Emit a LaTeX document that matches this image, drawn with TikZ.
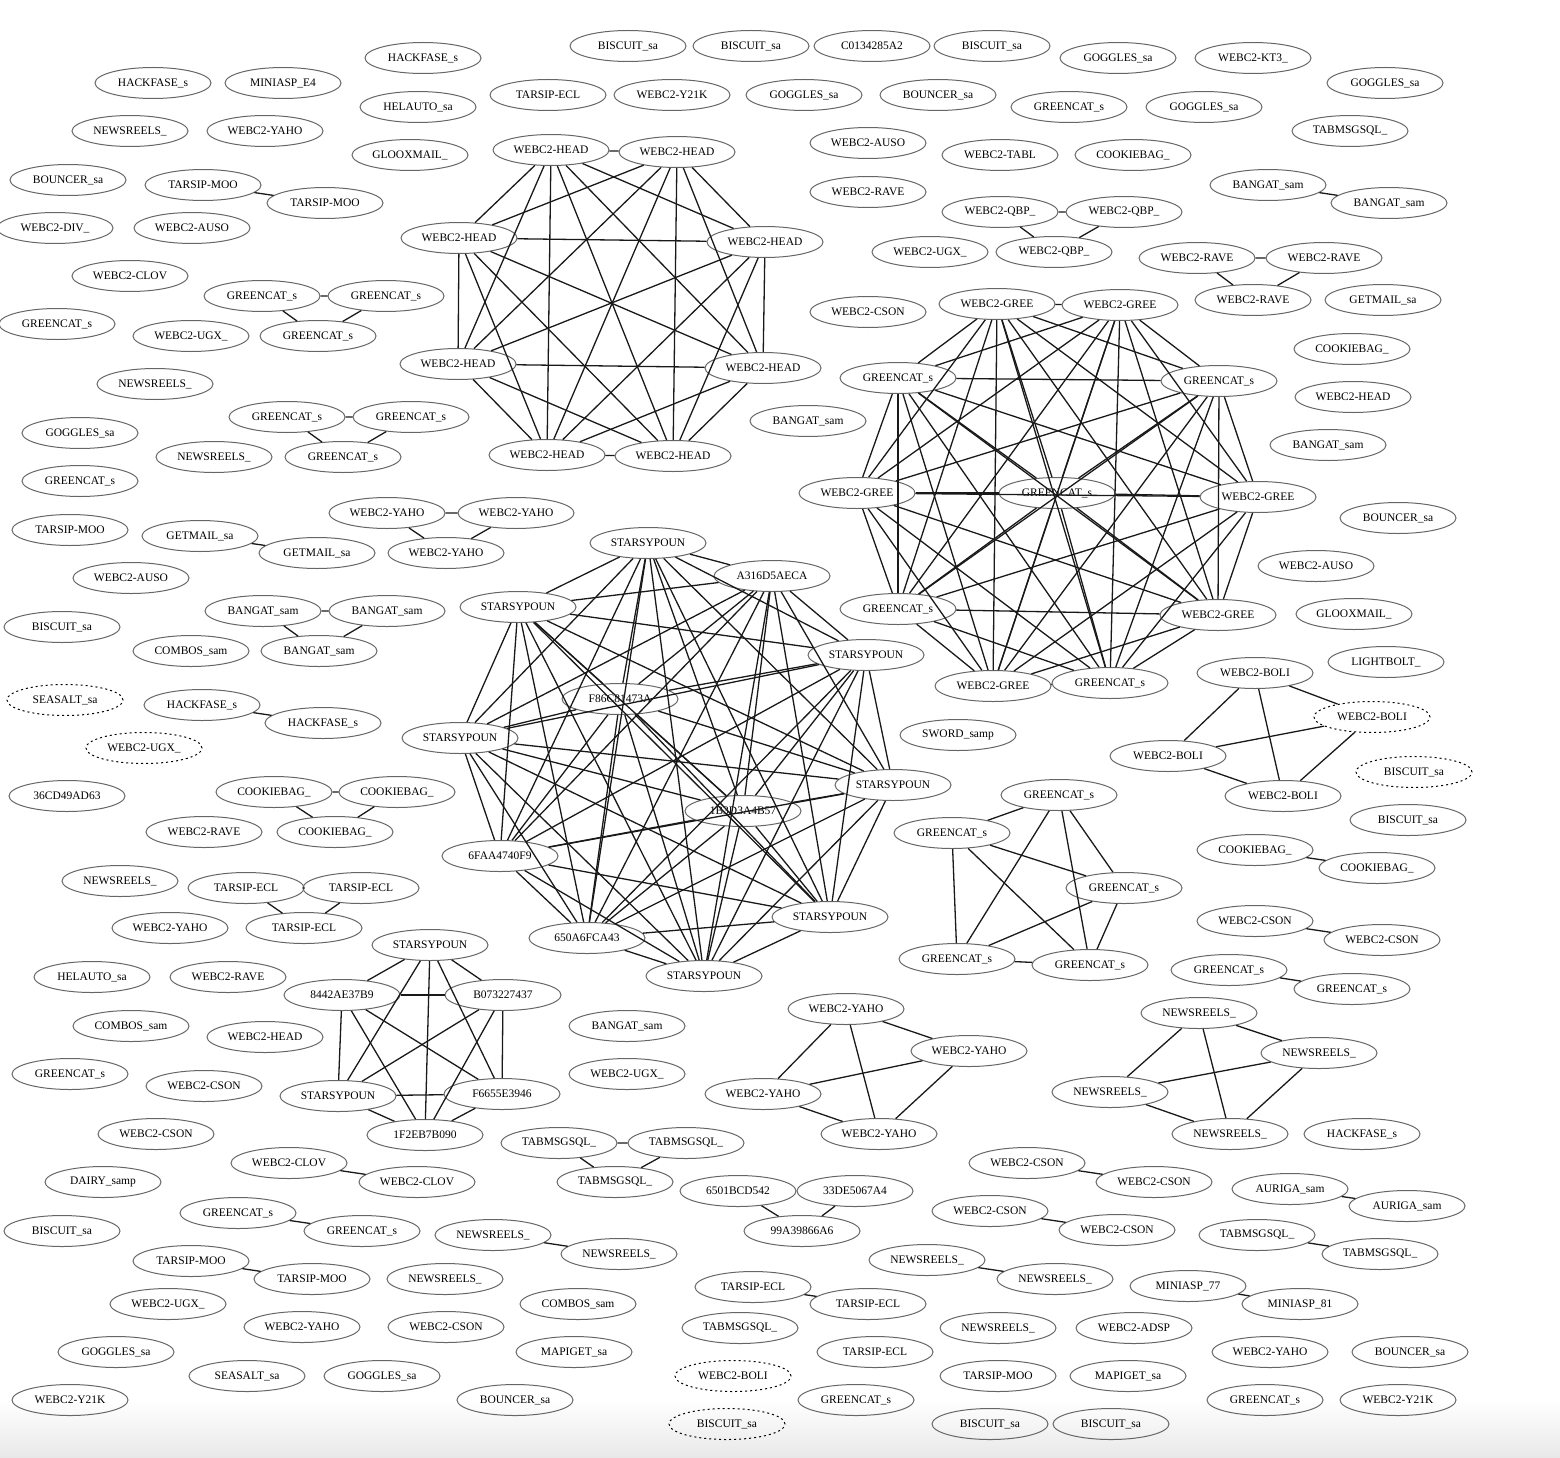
\documentclass[tikz,border=0pt]{standalone}
\usepackage{fontspec}
\setmainfont{Liberation Serif}
\usetikzlibrary{shapes.geometric}

\newcommand{\gfont}{\fontsize{11.5}{13}\selectfont}

\tikzset{
  gnode/.style={ellipse, draw=black!60, line width=1pt, minimum width=116pt, minimum height=31pt, inner sep=1pt, font=\gfont},
  dnode/.style={gnode, draw=black, dash pattern=on 2pt off 3pt},
  gedge/.style={line width=1.3pt, black!90},
}

\begin{document}
\begin{tikzpicture}[x=1pt,y=-1pt]

\useasboundingbox (0,0) rectangle (1560,1458);
\shade[top color=white,bottom color=black!9] (0,1400) rectangle (1560,1458);

% single nodes
\foreach \n/\x/\y/\t in {
  i01/423/58/HACKFASE\_s, i02/628/46/BISCUIT\_sa, i03/751/46/BISCUIT\_sa, i04/872/46/C0134285A2,
  i05/992/46/BISCUIT\_sa, i06/1118/58/GOGGLES\_sa, i07/1253/58/WEBC2-KT3\_, i08/1385/83/GOGGLES\_sa,
  i09/153/83/HACKFASE\_s, i10/283/83/MINIASP\_E4, i11/418/107/HELAUTO\_sa, i12/548/95/TARSIP-ECL,
  i13/672/95/WEBC2-Y21K, i14/804/95/GOGGLES\_sa, i15/938/95/BOUNCER\_sa, i16/1069/107/GREENCAT\_s,
  i17/1204/107/GOGGLES\_sa, i18/1350/131/TABMSGSQL\_, i19/130/131/NEWSREELS\_, i20/265/131/WEBC2-YAHO,
  i21/410/155/GLOOXMAIL\_, i22/868/143/WEBC2-AUSO, i23/1000/155/WEBC2-TABL, i24/1133/155/COOKIEBAG\_,
  i25/68/180/BOUNCER\_sa, i26/55/228/WEBC2-DIV\_, i27/192/228/WEBC2-AUSO, i28/868/192/WEBC2-RAVE,
  i29/930/252/WEBC2-UGX\_, i30/1383/300/GETMAIL\_sa, i31/130/276/WEBC2-CLOV, i32/57/324/GREENCAT\_s,
  i33/191/336/WEBC2-UGX\_, i34/868/312/WEBC2-CSON, i35/1352/349/COOKIEBAG\_, i36/155/384/NEWSREELS\_,
  i37/1353/397/WEBC2-HEAD, i38/808/421/BANGAT\_sam, i39/80/433/GOGGLES\_sa, i40/214/457/NEWSREELS\_,
  i41/1328/445/BANGAT\_sam, i42/80/481/GREENCAT\_s, i43/70/530/TARSIP-MOO, i44/131/578/WEBC2-AUSO,
  i45/62/627/BISCUIT\_sa, i46/191/651/COMBOS\_sam, i47/67/796/36CD49AD63, i48/204/832/WEBC2-RAVE,
  i49/120/881/NEWSREELS\_, i50/170/928/WEBC2-YAHO, i51/1398/518/BOUNCER\_sa, i52/1316/566/WEBC2-AUSO,
  i53/1354/614/GLOOXMAIL\_, i54/1386/662/LIGHTBOLT\_, i55/1408/820/BISCUIT\_sa, i56/958/735/SWORD\_samp,
  i57/1362/1134/HACKFASE\_s, i58/92/977/HELAUTO\_sa, i59/228/977/WEBC2-RAVE, i60/131/1026/COMBOS\_sam,
  i61/265/1037/WEBC2-HEAD, i62/70/1074/GREENCAT\_s, i63/204/1086/WEBC2-CSON, i64/156/1134/WEBC2-CSON,
  i65/103/1182/DAIRY\_samp, i66/62/1231/BISCUIT\_sa, i67/168/1304/WEBC2-UGX\_, i68/302/1327/WEBC2-YAHO,
  i69/116/1352/GOGGLES\_sa, i70/247/1376/SEASALT\_sa, i71/70/1400/WEBC2-Y21K, i72/445/1279/NEWSREELS\_,
  i73/446/1327/WEBC2-CSON, i74/382/1376/GOGGLES\_sa, i75/627/1026/BANGAT\_sam, i76/627/1074/WEBC2-UGX\_,
  i77/578/1304/COMBOS\_sam, i78/574/1352/MAPIGET\_sa, i79/515/1400/BOUNCER\_sa, i80/740/1328/TABMSGSQL\_,
  i81/875/1352/TARSIP-ECL, i82/856/1400/GREENCAT\_s, i83/998/1328/NEWSREELS\_, i84/1134/1328/WEBC2-ADSP,
  i85/1270/1352/WEBC2-YAHO, i86/1410/1352/BOUNCER\_sa, i87/998/1376/TARSIP-MOO, i88/1128/1376/MAPIGET\_sa,
  i89/1265/1400/GREENCAT\_s, i90/1398/1400/WEBC2-Y21K, i91/990/1424/BISCUIT\_sa, i92/1111/1424/BISCUIT\_sa}
  \node[gnode] (\n) at (\x,\y) {\t};

\foreach \n/\x/\y/\t in {d1/65/700/SEASALT\_sa, d2/144/748/WEBC2-UGX\_, d3/1414/772/BISCUIT\_sa,
  d4/733/1376/WEBC2-BOLI, d5/727/1424/BISCUIT\_sa}
  \node[dnode] (\n) at (\x,\y) {\t};

% pairs and triangles
\foreach \n/\x/\y/\t in {
  tm1/203/185/TARSIP-MOO, tm2/325/203/TARSIP-MOO, bg1/1268/185/BANGAT\_sam, bg2/1389/203/BANGAT\_sam,
  gm1/200/536/GETMAIL\_sa, gm2/317/553/GETMAIL\_sa, hf1/202/705/HACKFASE\_s, hf2/323/723/HACKFASE\_s,
  ck1/1255/850/COOKIEBAG\_, ck2/1377/868/COOKIEBAG\_, cs1/1255/921/WEBC2-CSON, cs2/1382/940/WEBC2-CSON,
  gc1/1229/970/GREENCAT\_s, gc2/1352/989/GREENCAT\_s, cl1/289/1163/WEBC2-CLOV, cl2/417/1182/WEBC2-CLOV,
  gc3/238/1213/GREENCAT\_s, gc4/362/1231/GREENCAT\_s, tm3/191/1261/TARSIP-MOO, tm4/312/1279/TARSIP-MOO,
  nr1/493/1235/NEWSREELS\_, nr2/619/1254/NEWSREELS\_, te1/753/1287/TARSIP-ECL, te2/868/1304/TARSIP-ECL,
  cs3/1027/1163/WEBC2-CSON, cs4/1154/1182/WEBC2-CSON, cs5/990/1211/WEBC2-CSON, cs6/1117/1230/WEBC2-CSON,
  au1/1290/1189/AURIGA\_sam, au2/1407/1206/AURIGA\_sam, tq1/1257/1235/TABMSGSQL\_, tq2/1380/1254/TABMSGSQL\_,
  nr3/927/1260/NEWSREELS\_, nr4/1055/1279/NEWSREELS\_, mi1/1188/1286/MINIASP\_77, mi2/1300/1304/MINIASP\_81,
  qb1/1000/212/WEBC2-QBP\_, qb2/1124/212/WEBC2-QBP\_, qb3/1054/252/WEBC2-QBP\_,
  rv1/1197/258/WEBC2-RAVE, rv2/1324/258/WEBC2-RAVE, rv3/1253/300/WEBC2-RAVE,
  ga1/262/296/GREENCAT\_s, ga2/386/296/GREENCAT\_s, ga3/318/336/GREENCAT\_s,
  gb1/287/417/GREENCAT\_s, gb2/411/417/GREENCAT\_s, gb3/343/457/GREENCAT\_s,
  ya1/387/513/WEBC2-YAHO, ya2/516/513/WEBC2-YAHO, ya3/446/553/WEBC2-YAHO,
  ba1/263/611/BANGAT\_sam, ba2/387/611/BANGAT\_sam, ba3/319/651/BANGAT\_sam,
  co1/274/792/COOKIEBAG\_, co2/397/792/COOKIEBAG\_, co3/335/832/COOKIEBAG\_,
  tc1/246/888/TARSIP-ECL, tc2/361/888/TARSIP-ECL, tc3/304/928/TARSIP-ECL,
  ts1/559/1143/TABMSGSQL\_, ts2/686/1143/TABMSGSQL\_, ts3/615/1182/TABMSGSQL\_,
  hx1/738/1191/6501BCD542, hx2/855/1191/33DE5067A4, hx3/802/1231/99A39866A6}
  \node[gnode] (\n) at (\x,\y) {\t};

\foreach \a/\b in {tm1/tm2, bg1/bg2, gm1/gm2, hf1/hf2, ck1/ck2, cs1/cs2, gc1/gc2, cl1/cl2, gc3/gc4,
  tm3/tm4, nr1/nr2, te1/te2, cs3/cs4, cs5/cs6, au1/au2, tq1/tq2, nr3/nr4, mi1/mi2}
  \draw[gedge] (\a) -- (\b);
\foreach \p in {qb, rv, ga, gb, ya, ba, co, tc, ts, hx}
  \draw[gedge] (\p1) -- (\p2) (\p1) -- (\p3) (\p2) -- (\p3);

% cliques
\foreach \n/\x/\y/\t in {yh1/846/1009/WEBC2-YAHO, yh2/969/1051/WEBC2-YAHO, yh3/763/1094/WEBC2-YAHO, yh4/879/1134/WEBC2-YAHO,
  bl1/1255/673/WEBC2-BOLI, bl3/1168/756/WEBC2-BOLI, bl4/1283/796/WEBC2-BOLI,
  ns1/1199/1013/NEWSREELS\_, ns2/1319/1053/NEWSREELS\_, ns3/1110/1092/NEWSREELS\_, ns4/1230/1134/NEWSREELS\_,
  gn1/1059/795/GREENCAT\_s, gn2/952/833/GREENCAT\_s, gn3/1124/888/GREENCAT\_s, gn4/957/959/GREENCAT\_s, gn5/1090/965/GREENCAT\_s,
  sy1/430/945/STARSYPOUN, sy2/342/995/8442AE37B9, sy3/503/995/B073227437,
  sy4/338/1096/STARSYPOUN, sy5/502/1094/F6655E3946, sy6/425/1135/1F2EB7B090,
  hd1/551/150/WEBC2-HEAD, hd2/677/152/WEBC2-HEAD, hd3/459/238/WEBC2-HEAD, hd4/765/242/WEBC2-HEAD,
  hd5/458/364/WEBC2-HEAD, hd6/763/368/WEBC2-HEAD, hd7/547/455/WEBC2-HEAD, hd8/673/456/WEBC2-HEAD,
  gr1/997/304/WEBC2-GREE, gr2/1120/305/WEBC2-GREE, gr3/898/378/GREENCAT\_s, gr4/1219/381/GREENCAT\_s,
  gr5/857/493/WEBC2-GREE, gr6/1057/493/GREENCAT\_s, gr7/1258/497/WEBC2-GREE, gr8/898/609/GREENCAT\_s,
  gr9/1218/615/WEBC2-GREE, gr10/993/686/WEBC2-GREE, gr11/1110/683/GREENCAT\_s,
  sp1/648/543/STARSYPOUN, sp2/772/576/A316D5AECA, sp3/518/607/STARSYPOUN, sp4/866/655/STARSYPOUN,
  sp5/620/699/F86C81473A, sp6/460/738/STARSYPOUN, sp7/893/785/STARSYPOUN, sp8/743/811/1B3D3A4B57,
  sp9/500/856/6FAA4740F9, sp10/830/917/STARSYPOUN, sp11/587/938/650A6FCA43, sp12/704/976/STARSYPOUN}
  \node[gnode] (\n) at (\x,\y) {\t};
\node[dnode] (bl2) at (1372,717) {WEBC2-BOLI};

\foreach \p/\k in {yh/4, bl/4, ns/4, gn/5, sy/6, hd/8, gr/11, sp/12}
  \foreach \i in {1,...,\k}
    \foreach \j in {1,...,\k}
      {\ifnum\i<\j \draw[gedge] (\p\i) -- (\p\j);\fi}

\end{tikzpicture}
\end{document}
